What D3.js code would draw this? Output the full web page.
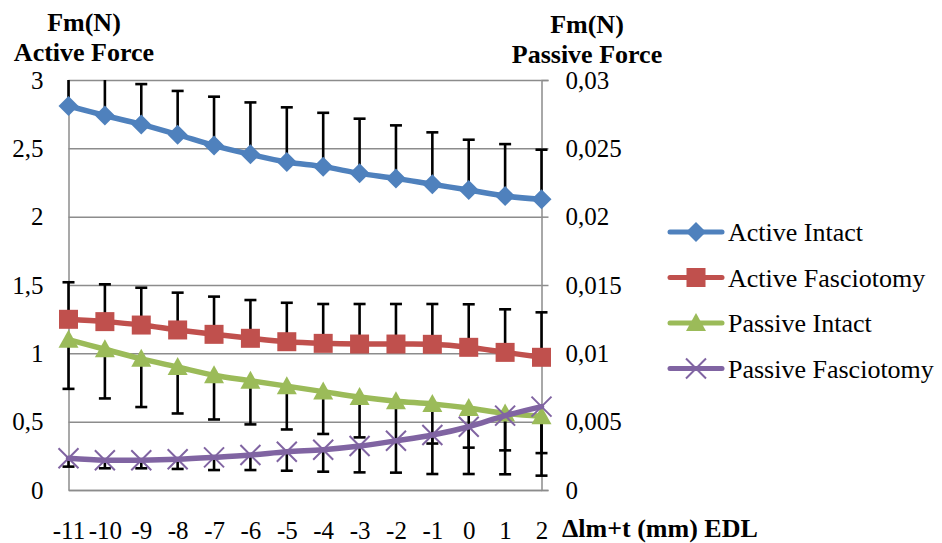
<!DOCTYPE html>
<html><head><meta charset="utf-8">
<script src="https://cdn.jsdelivr.net/npm/d3@7"></script>
<style>
body{margin:0;background:#fff}
svg{display:block}
</style>
</head><body>
<svg id="chart" width="942" height="543" style="font-family:'Liberation Serif',serif"></svg>
<script>
// ---------- data ----------
const categories = ["-11","-10","-9","-8","-7","-6","-5","-4","-3","-2","-1","0","1","2"];
const seriesNames = ["Active Intact","Active Fasciotomy","Passive Intact","Passive Fasciotomy"];
// Active force (N), left axis
const activeIntact      = [2.81,2.74,2.675,2.60,2.52,2.456,2.40,2.366,2.317,2.28,2.237,2.195,2.151,2.127];
const activeIntactErr   = [0.30,0.32,0.295,0.32,0.358,0.38,0.40,0.394,0.40,0.388,0.38,0.368,0.38,0.363];
const activeFasc        = [1.249,1.232,1.207,1.171,1.139,1.11,1.085,1.073,1.068,1.068,1.066,1.044,1.007,0.971];
const activeFascErr     = [0.271,0.273,0.273,0.273,0.276,0.28,0.285,0.288,0.293,0.293,0.295,0.315,0.315,0.329];
// Passive force (N), right axis
const passiveIntact     = [0.0110,0.0103,0.0096,0.0090,0.0084,0.0080,0.0076,0.0072,0.0068,0.0065,0.0063,0.0060,0.0056,0.0054];
const passiveIntactErr  = [0.0036,0.0036,0.00353,0.0034,0.00324,0.0032,0.00317,0.0031,0.00295,0.0029,0.0029,0.0029,0.0027,0.0027];
const passiveFasc       = [0.00232,0.00218,0.00218,0.00225,0.00239,0.00256,0.0028,0.00295,0.00322,0.0036,0.00402,0.00463,0.00544,0.0061];
const passiveFascErr    = [0.00061,0.00059,0.00059,0.00071,0.00093,0.0011,0.00139,0.00161,0.00193,0.00233,0.00285,0.00346,0.00429,0.00505];
// ticks
const leftTicks = [0,0.5,1,1.5,2,2.5,3];
const leftTickLabels = ["0","0,5","1","1,5","2","2,5","3"];
const rightTicks = [0,0.005,0.01,0.015,0.02,0.025,0.03];
const rightTickLabels = ["0","0,005","0,01","0,015","0,02","0,025","0,03"];

// ---------- layout ----------
const FONT = "'Liberation Serif','Times New Roman',serif";
const svg = d3.select("#chart");
const X0 = 68.5, X1 = 541.5, Y0 = 80, Y1 = 490;
const colors = ["#4F81BD","#C0504D","#9BBB59","#8064A2"];
const x = d3.scalePoint().domain(categories).range([X0, X1]);
const yL = d3.scaleLinear().domain([0,3]).range([Y1, Y0]);
const yR = d3.scaleLinear().domain([0,0.03]).range([Y1, Y0]);

const series = [
  {name:seriesNames[0], vals:activeIntact, err:activeIntactErr, y:yL, dir:1, marker:"diamond", color:colors[0]},
  {name:seriesNames[1], vals:activeFasc, err:activeFascErr, y:yL, dir:1, marker:"square", color:colors[1]},
  {name:seriesNames[2], vals:passiveIntact, err:passiveIntactErr, y:yR, dir:-1, marker:"triangle", color:colors[2]},
  {name:seriesNames[3], vals:passiveFasc, err:passiveFascErr, y:yR, dir:-1, marker:"x", color:colors[3]}
];

const grid = "#8C8C8C";
function styleText(g){ g.attr("font-family",FONT).attr("font-size",25).selectAll("text").style("font-family",FONT).style("font-size","25px").attr("fill","#000"); }
// gridlines
svg.append("g").attr("transform",`translate(${X0},0)`)
  .call(d3.axisLeft(yL).tickValues(leftTicks).tickSize(-(X1-X0)).tickFormat(""))
  .call(g=>g.select(".domain").remove())
  .call(g=>g.selectAll("line").attr("stroke",grid).attr("stroke-width",1.5));
// left axis
svg.append("g").attr("transform",`translate(${X0},0)`)
  .call(d3.axisLeft(yL).tickValues(leftTicks).tickSize(0).tickPadding(25)
        .tickFormat((d,i)=>leftTickLabels[i]))
  .call(g=>g.select(".domain").attr("stroke",grid).attr("stroke-width",1.5))
  .call(styleText);
// right axis
svg.append("g").attr("transform",`translate(${X1},0)`)
  .call(d3.axisRight(yR).tickValues(rightTicks).tickSize(7).tickPadding(17)
        .tickFormat((d,i)=>rightTickLabels[i]))
  .call(g=>g.select(".domain").attr("stroke",grid).attr("stroke-width",1.5))
  .call(g=>g.selectAll("line").attr("stroke",grid).attr("stroke-width",1.5))
  .call(styleText);
// bottom axis
svg.append("g").attr("transform",`translate(0,${Y1})`)
  .call(d3.axisBottom(x).tickSize(0).tickPadding(31))
  .call(g=>g.select(".domain").attr("stroke",grid).attr("stroke-width",1.5))
  .call(styleText);

// clip for error bars
svg.append("clipPath").attr("id","plotclip").append("rect")
  .attr("x",0).attr("y",Y0).attr("width",942).attr("height",543-Y0);

// error bars
const eb = svg.append("g").attr("clip-path","url(#plotclip)").attr("stroke","#000").attr("stroke-width",2.6);
series.forEach(s=>{
  categories.forEach((c,i)=>{
    const cx = x(c), ya = s.y(s.vals[i]), yb = s.y(s.vals[i] + s.dir*s.err[i]);
    eb.append("line").attr("x1",cx).attr("x2",cx).attr("y1",ya).attr("y2",yb);
    eb.append("line").attr("x1",cx-6).attr("x2",cx+6).attr("y1",yb).attr("y2",yb);
  });
});

// marker drawing
function drawMarker(g, type, cx, cy, color){
  if(type==="diamond"){
    const r=10;
    g.append("path").attr("d",`M${cx},${cy-r}L${cx+r},${cy}L${cx},${cy+r}L${cx-r},${cy}Z`).attr("fill",color);
  } else if(type==="square"){
    const r=9.5;
    g.append("rect").attr("x",cx-r).attr("y",cy-r).attr("width",2*r).attr("height",2*r).attr("fill",color);
  } else if(type==="triangle"){
    const r=10;
    g.append("path").attr("d",`M${cx},${cy-r}L${cx+r},${cy+r*0.8}L${cx-r},${cy+r*0.8}Z`).attr("fill",color);
  } else {
    const r=10;
    g.append("path").attr("d",`M${cx-r},${cy-r}L${cx+r},${cy+r}M${cx-r},${cy+r}L${cx+r},${cy-r}`)
      .attr("stroke",color).attr("stroke-width",2).attr("fill","none");
  }
}

// lines + markers
series.forEach(s=>{
  const line = d3.line().x((d,i)=>x(categories[i])).y(d=>s.y(d)).curve(d3.curveCatmullRom.alpha(0.5));
  svg.append("path").datum(s.vals).attr("d",line).attr("fill","none")
    .attr("stroke",s.color).attr("stroke-width",5.5).attr("stroke-linejoin","round").attr("stroke-linecap","round");
  const mg = svg.append("g");
  s.vals.forEach((v,i)=>drawMarker(mg, s.marker, x(categories[i]), s.y(v), s.color));
});

// legend
const leg = svg.append("g");
series.forEach((s,i)=>{
  const cy = 232 + i*45.5;
  leg.append("line").attr("x1",670).attr("x2",722).attr("y1",cy).attr("y2",cy)
    .attr("stroke",s.color).attr("stroke-width",5).attr("stroke-linecap","round");
  drawMarker(leg, s.marker, 696, cy, s.color);
  leg.append("text").attr("x",728).attr("y",cy+9)
    .style("font-family",FONT).style("font-size","26px").text(s.name);
});

// titles
function title(xp, yp, txt, anchor){
  svg.append("text").attr("x",xp).attr("y",yp).attr("text-anchor",anchor||"middle")
    .style("font-family",FONT).style("font-weight","bold").style("font-size","26px").text(txt);
}
title(84,31,"Fm(N)");
title(84,61,"Active Force");
title(587,33,"Fm(N)");
title(587,63,"Passive Force");
title(562,537,"\u0394lm+t (mm) EDL","start");
</script>
</body></html>
